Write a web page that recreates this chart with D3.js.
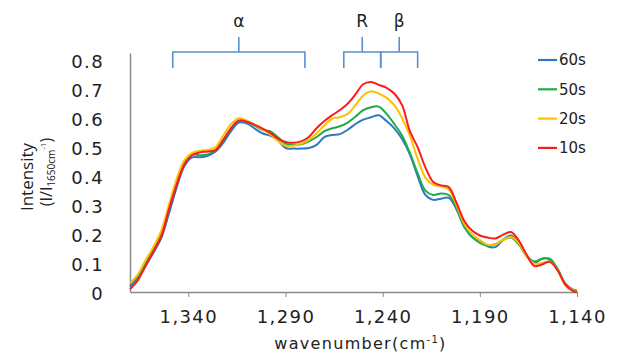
<!DOCTYPE html>
<html>
<head>
<meta charset="utf-8">
<script src="https://cdn.jsdelivr.net/npm/d3@7"></script>
<style>
  body { margin: 0; background: #fff; }
  svg { display: block; }
</style>
</head>
<body>
<script>
const wavenumbers = [1370, 1366, 1362, 1358, 1354, 1350, 1346, 1342, 1338, 1334, 1330, 1326, 1322, 1318, 1314, 1310, 1306, 1302, 1298, 1294, 1290, 1286, 1282, 1278, 1274, 1270, 1266, 1262, 1258, 1254, 1250, 1246, 1242, 1238, 1234, 1230, 1226, 1222, 1218, 1214, 1210, 1206, 1202, 1198, 1194, 1190, 1186, 1182, 1178, 1174, 1170, 1166, 1162, 1158, 1154, 1150, 1146, 1142, 1140];

const s60 = [0.02, 0.05, 0.09, 0.135, 0.185, 0.27, 0.36, 0.435, 0.465, 0.465, 0.47, 0.485, 0.515, 0.555, 0.585, 0.582, 0.565, 0.548, 0.54, 0.525, 0.497, 0.495, 0.495, 0.497, 0.508, 0.535, 0.542, 0.545, 0.56, 0.58, 0.595, 0.603, 0.61, 0.59, 0.565, 0.528, 0.475, 0.4, 0.335, 0.318, 0.322, 0.325, 0.285, 0.225, 0.19, 0.178, 0.158, 0.155, 0.18, 0.195, 0.17, 0.125, 0.1, 0.115, 0.112, 0.078, 0.028, 0.006, 0.004];
const s50 = [0.03, 0.055, 0.1, 0.145, 0.2, 0.29, 0.38, 0.45, 0.475, 0.472, 0.475, 0.49, 0.525, 0.565, 0.59, 0.588, 0.575, 0.56, 0.555, 0.535, 0.512, 0.508, 0.51, 0.52, 0.535, 0.555, 0.565, 0.572, 0.585, 0.605, 0.628, 0.638, 0.64, 0.615, 0.58, 0.54, 0.48, 0.41, 0.35, 0.335, 0.34, 0.335, 0.29, 0.225, 0.19, 0.17, 0.16, 0.165, 0.18, 0.188, 0.165, 0.125, 0.105, 0.115, 0.115, 0.08, 0.03, 0.008, 0.005];
const s20 = [0.03, 0.06, 0.11, 0.155, 0.21, 0.3, 0.39, 0.455, 0.48, 0.488, 0.49, 0.5, 0.54, 0.58, 0.6, 0.592, 0.578, 0.562, 0.545, 0.522, 0.505, 0.505, 0.512, 0.525, 0.548, 0.575, 0.598, 0.603, 0.615, 0.645, 0.678, 0.693, 0.685, 0.67, 0.645, 0.6, 0.54, 0.46, 0.395, 0.37, 0.365, 0.355, 0.3, 0.235, 0.2, 0.178, 0.163, 0.165, 0.18, 0.19, 0.17, 0.125, 0.098, 0.1, 0.105, 0.075, 0.025, 0.005, 0.002];
const s10 = [0.01, 0.04, 0.09, 0.14, 0.19, 0.285, 0.37, 0.44, 0.472, 0.482, 0.485, 0.49, 0.525, 0.565, 0.592, 0.588, 0.578, 0.565, 0.55, 0.53, 0.518, 0.515, 0.52, 0.535, 0.565, 0.59, 0.61, 0.628, 0.65, 0.682, 0.717, 0.725, 0.715, 0.705, 0.685, 0.645, 0.555, 0.5, 0.43, 0.38, 0.368, 0.362, 0.308, 0.245, 0.212, 0.195, 0.188, 0.185, 0.198, 0.207, 0.178, 0.13, 0.09, 0.095, 0.104, 0.075, 0.025, 0.003, 0];

const seriesNames = ["60s", "50s", "20s", "10s"];
const seriesColors = ["#2f78c4", "#1faa4c", "#ffc000", "#ff1a1a"];
const seriesValues = [s60, s50, s20, s10];

const xTicks = [1340, 1290, 1240, 1190, 1140];
const yTicks = [0, 0.1, 0.2, 0.3, 0.4, 0.5, 0.6, 0.7, 0.8];

// band brackets: [label, from, to]
const bands = [["α", 1348, 1280], ["R", 1260, 1241], ["β", 1241, 1222]];

const width = 620, height = 354;
const margin = { left: 130, right: 43, top: 53, bottom: 62 };

const svg = d3.select("body").append("svg")
  .attr("width", width)
  .attr("height", height);

const x = d3.scaleLinear()
  .domain([1370, 1140])
  .range([margin.left, width - margin.right]);

const y = d3.scaleLinear()
  .domain([0, 0.825])
  .range([height - margin.bottom, margin.top]);

const tickFont = "DejaVu Sans, sans-serif";

// x axis
const xAxis = svg.append("g")
  .attr("transform", `translate(0,${y(0)})`)
  .call(d3.axisBottom(x).tickValues(xTicks).tickSize(5).tickSizeOuter(0).tickPadding(13)
    .tickFormat(d3.format(",")));
xAxis.select(".domain").attr("stroke", "#8a8a8a").attr("stroke-width", 1.5);
xAxis.selectAll(".tick line").attr("stroke", "#8a8a8a").attr("stroke-width", 1);
xAxis.selectAll(".tick text")
  .attr("fill", "#222")
  .style("font", `18px ${tickFont}`)
  .style("letter-spacing", "1.4px");

// y axis
const yAxis = svg.append("g")
  .attr("transform", `translate(${x(1370)},0)`)
  .call(d3.axisLeft(y).tickValues(yTicks).tickSize(0).tickSizeOuter(0).tickPadding(26)
    .tickFormat((d) => (d === 0 ? "0" : d3.format(".1f")(d))));
yAxis.select(".domain").attr("stroke", "#8a8a8a").attr("stroke-width", 1.5);
yAxis.selectAll(".tick text")
  .attr("fill", "#222")
  .attr("dy", "0.4em")
  .style("font", `18px ${tickFont}`)
  .style("letter-spacing", "1.4px");

// axis titles
svg.append("text")
  .attr("x", (x(1370) + x(1140)) / 2 + 7)
  .attr("y", 349)
  .attr("text-anchor", "middle")
  .attr("fill", "#222")
  .style("font", `16px ${tickFont}`)
  .style("letter-spacing", "1.3px")
  .html('wavenumber(cm<tspan dy="-6" font-size="10">-1</tspan><tspan dy="6">)</tspan>');

svg.append("text")
  .attr("transform", "translate(33,177) rotate(-90)")
  .attr("text-anchor", "middle")
  .attr("fill", "#222")
  .style("font", "17px 'Open Sans', sans-serif")
  .text("Intensity");

svg.append("text")
  .attr("transform", "translate(52,172) rotate(-90)")
  .attr("text-anchor", "middle")
  .attr("fill", "#222")
  .style("font", "16px 'Open Sans', sans-serif")
  .html('(I/I<tspan font-size="10" dy="3">1650cm</tspan><tspan font-size="8" dy="-9">-1</tspan><tspan dy="6">)</tspan>');

// spectra
const line = d3.line()
  .x((d, i) => x(wavenumbers[i]))
  .y((d) => y(d))
  .curve(d3.curveCatmullRom.alpha(0.5));

svg.append("g")
  .selectAll("path")
  .data(seriesValues)
  .join("path")
  .attr("fill", "none")
  .attr("stroke", (d, i) => seriesColors[i])
  .attr("stroke-width", 2)
  .attr("stroke-linejoin", "round")
  .attr("d", line);

// band brackets
const bracketTop = 52, bracketBottom = 68, stemTop = 37;
const bracket = svg.append("g")
  .attr("stroke", "#5b8fcf")
  .attr("stroke-width", 1.6)
  .attr("fill", "none");

bracket.selectAll("path")
  .data(bands)
  .join("path")
  .attr("d", (d) => {
    const a = x(d[1]), b = x(d[2]), m = (a + b) / 2;
    return `M${a},${bracketBottom}V${bracketTop}H${b}V${bracketBottom}M${m},${bracketTop}V${stemTop}`;
  });

svg.append("g")
  .selectAll("text")
  .data(bands)
  .join("text")
  .attr("x", (d) => (x(d[1]) + x(d[2])) / 2)
  .attr("y", 27)
  .attr("text-anchor", "middle")
  .attr("fill", "#222")
  .style("font", `17px ${tickFont}`)
  .text((d) => d[0]);

// legend
const legend = svg.append("g")
  .selectAll("g")
  .data(seriesNames)
  .join("g")
  .attr("transform", (d, i) => `translate(538,${60 + i * 29.3})`);

legend.append("line")
  .attr("x1", 0).attr("x2", 19)
  .attr("stroke", (d, i) => seriesColors[i])
  .attr("stroke-width", 2.2);

legend.append("text")
  .attr("x", 21)
  .attr("dy", "0.36em")
  .attr("fill", "#222")
  .style("font", `15px ${tickFont}`)
  .text((d) => d);
</script>
</body>
</html>
